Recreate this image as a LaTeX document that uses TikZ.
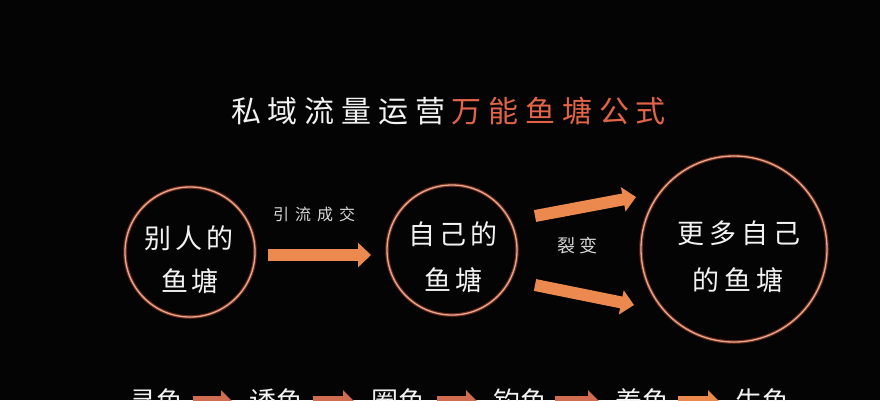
\documentclass[tikz,border=0pt]{standalone}
\usepackage{fontspec}
\newfontfamily\cjk{Noto Sans CJK SC}
\usetikzlibrary{arrows.meta}
\makeatletter
\newcommand\spc[2]{\def\spc@k{#1}\spc@loop#2\relax}
\def\spc@loop#1#2{#1\ifx#2\relax\else\kern\spc@k\relax\expandafter\spc@loop\fi#2}
\makeatother
\definecolor{bgc}{RGB}{4,4,4}
\definecolor{ttlorange}{RGB}{226,100,72}
\definecolor{ringc}{RGB}{232,168,145}
\definecolor{glowc}{RGB}{110,45,25}
\definecolor{arrc}{RGB}{236,137,78}
\definecolor{arrb}{RGB}{208,108,80}
\definecolor{txtc}{RGB}{242,242,242}
\definecolor{lblc}{RGB}{215,215,215}
\begin{document}
\begin{tikzpicture}[x=1pt,y=-1pt,
  txt/.style={inner sep=0pt, text=txtc, font=\cjk\fontsize{27}{30}\selectfont},
  lbl/.style={inner sep=0pt, text=lblc},
  ring/.style={circle, draw=ringc, line width=1.3pt, inner sep=0pt,
     preaction={draw=glowc, line width=3.5pt}},
  bigarrow/.style={draw=arrc, line width=12pt,
     -{Triangle[length=13pt,width=24pt]}},
  smallarrow/.style={draw=arrb, line width=12pt,
     -{Triangle[length=12pt,width=23pt]}}]
\fill[bgc] (0,0) rectangle (880,400);
\clip (0,0) rectangle (880,400);
% title
\node[inner sep=0pt, font=\cjk\fontsize{30}{34}\selectfont] (title) at (448.5,111)
  {\textcolor{txtc}{\spc{6.8pt}{私域流量运营}}\kern6.8pt\textcolor{ttlorange}{\spc{6.8pt}{万能鱼塘公式}}};
% circles
\node[ring, minimum size=130pt] (c1) at (190,252) {};
\node[ring, minimum size=130pt] (c2) at (452,250) {};
\node[ring, minimum size=186pt] (c3) at (734,249) {};
\node[txt] (t1a) at (189,238) {\spc{4pt}{别人的}};
\node[txt] (t1b) at (190,281) {\spc{4pt}{鱼塘}};
\node[txt] (t2a) at (453,234) {\spc{4pt}{自己的}};
\node[txt] (t2b) at (453,280) {\spc{4pt}{鱼塘}};
\node[txt] (t3a) at (739,233) {\spc{5pt}{更多自己}};
\node[txt] (t3b) at (738,280) {\spc{5pt}{的鱼塘}};
% labels
\node[lbl, font=\cjk\fontsize{16}{18}\selectfont] (l1) at (314,214) {\spc{6pt}{引流成交}};
\node[lbl, font=\cjk\fontsize{18}{20}\selectfont] (l2) at (577,246) {\spc{4pt}{裂变}};
% main arrows
\coordinate (a1s) at (268,255);
\coordinate (a1e) at (371,255);
\coordinate (a2s) at (535,216);
\coordinate (a2e) at (636,197);
\coordinate (a3s) at (535,285);
\coordinate (a3e) at (634,305);
\draw[bigarrow] (a1s) -- (a1e);
\draw[bigarrow] (a2s) -- (a2e);
\draw[bigarrow] (a3s) -- (a3e);
% bottom row
\begin{scope}[every node/.style={txt}]
\node (w1) at (156,401) {寻鱼};
\node (w2) at (276.5,401) {诱鱼};
\node (w3) at (398.5,401) {圈鱼};
\node (w4) at (520,401) {钓鱼};
\node (w5) at (642.5,401) {养鱼};
\node (w6) at (762.5,401) {生鱼};
\end{scope}
\coordinate (b1s) at (193,402); \coordinate (b1e) at (233,402);
\coordinate (b2s) at (313,402); \coordinate (b2e) at (355,402);
\coordinate (b3s) at (437,402); \coordinate (b3e) at (478,402);
\coordinate (b4s) at (555,402); \coordinate (b4e) at (600,402);
\coordinate (b5s) at (678,402); \coordinate (b5e) at (720,402);
\draw[smallarrow] (b1s) -- (b1e);
\draw[smallarrow] (b2s) -- (b2e);
\draw[smallarrow] (b3s) -- (b3e);
\draw[smallarrow] (b4s) -- (b4e);
\draw[smallarrow, draw=arrc] (b5s) -- (b5e);
\end{tikzpicture}
\end{document}
